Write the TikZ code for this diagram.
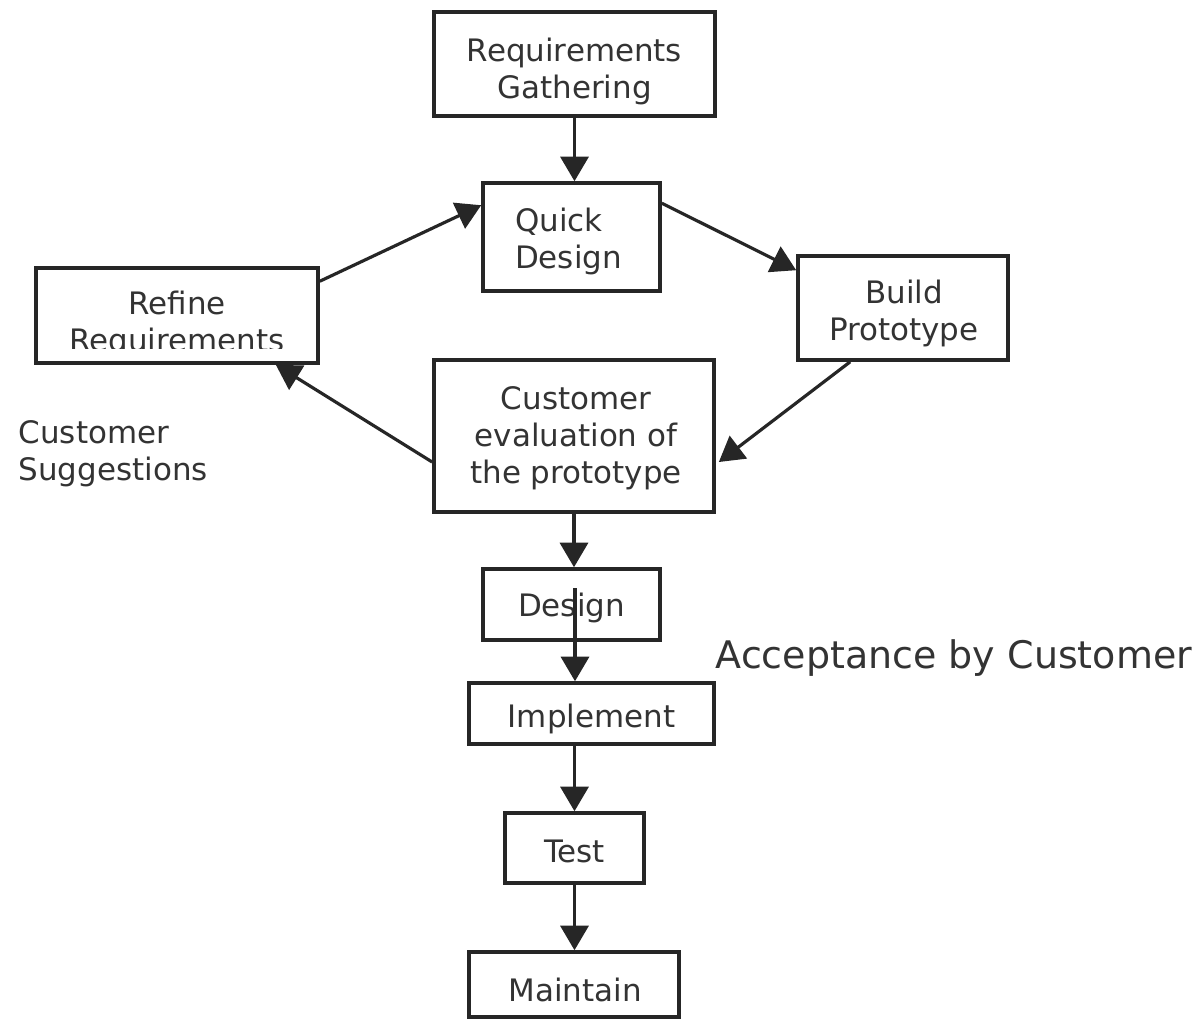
\documentclass[tikz,border=0pt]{standalone}
\usepackage{fontspec}
\setmainfont{DejaVu Sans}
\usetikzlibrary{arrows.meta,calc}
\begin{document}
\begin{tikzpicture}[x=0.01cm,y=-0.01cm,
  box/.style={draw=black!85,line width=1pt,inner sep=0pt},
  flow/.style={draw=black!85,line width=0.9pt,
    -{Triangle[length=7pt,width=8pt]}},
  txt/.style={font=\fontsize{8.8}{10.5}\selectfont,text=black!80,inner sep=0pt,align=center}]
\fill[white] (0,0) rectangle (1199,1020);
\useasboundingbox (0,0) rectangle (1199,1020);

% process boxes
\node[box,minimum width=2.81cm,minimum height=1.04cm] (rg) at (574.5,64) {};
\node[box,minimum width=1.77cm,minimum height=1.08cm] (qd) at (571.5,237) {};
\node[box,minimum width=2.10cm,minimum height=1.04cm] (bp) at (903,308) {};
\node[box,minimum width=2.82cm,minimum height=0.95cm] (rr) at (177,315.5) {};
\node[box,minimum width=2.80cm,minimum height=1.52cm] (ce) at (574,436) {};
\node[box,minimum width=1.77cm,minimum height=0.71cm] (ds) at (571.5,604.5) {};
\node[box,minimum width=2.45cm,minimum height=0.61cm] (im) at (591.5,713.5) {};
\node[box,minimum width=1.39cm,minimum height=0.70cm] (ts) at (574.5,848) {};
\node[box,minimum width=2.10cm,minimum height=0.65cm] (mt) at (574,984.5) {};

% box texts
\node[txt] (rgt) at ($(rg.center)+(0,7)$) {Requirements\\Gathering};
\node[txt,align=left] (qdt) at ($(qd.center)+(-3,4.5)$) {Quick\\Design};
\node[txt] (bpt) at ($(bp.center)+(1,5.5)$) {Build\\Prototype};
\node[txt] (cet) at ($(ce.center)+(2,2)$) {Customer\\evaluation of\\the prototype};
\node[txt] (dst) at ($(ds.center)+(0,3)$) {Design};
\node[txt] (imt) at ($(im.center)+(0,5)$) {Implement};
\node[txt] (tst) at ($(ts.center)+(0,3)$) {Test};
\node[txt] (mtt) at ($(mt.center)+(1,5)$) {Maintain};

% text of the refine box, its second line cut by the lower edge
\begin{scope}
  \clip (36,268) rectangle (318,348);
  \node[txt] (rrt) at (177,324) {Refine\\Requirements};
\end{scope}

% free labels
\node[txt,align=left,anchor=west] (cs) at (18,454) {Customer\\Suggestions};
\node[txt,anchor=west,font=\fontsize{10.8}{13}\selectfont] (ac) at (715,658) {Acceptance by Customer};

% connector end points
\coordinate (rrOut) at ($(rr.north east)+(0,15)$);
\coordinate (qdIn)  at ($(qd.north west)+(0,24)$);
\coordinate (qdOut) at ($(qd.north east)+(0,22)$);
\coordinate (bpIn)  at ($(bp.north west)+(0,16)$);
\coordinate (bpOut) at ($(bp.south west)+(54,0)$);
\coordinate (ceIn)  at ($(ce.east)+(3,26)$);
\coordinate (ceOut) at ($(ce.west)+(0,26)$);
\coordinate (rrIn)  at ($(rr.south east)+(-44,0)$);
\coordinate (dsOut) at ($(ds.north)+(3.5,21)$);

% connectors
\draw[flow] (rg.south) -- (rg.south |- qd.north);
\draw[flow] (rrOut) -- (qdIn);
\draw[flow] (qdOut) -- (bpIn);
\draw[flow] (bpOut) -- (ceIn);
\draw[flow] (ceOut) -- (rrIn);
\draw[flow] (ce.south) -- (ce.south |- ds.north);
\draw[flow] (dsOut) -- (dsOut |- im.north);
\draw[flow] (im.south -| ts.north) -- (ts.north);
\draw[flow] (ts.south) -- (ts.south |- mt.north);
\end{tikzpicture}
\end{document}
